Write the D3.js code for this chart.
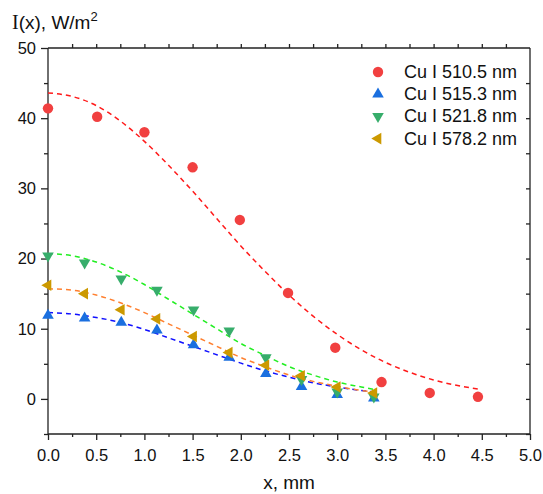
<!DOCTYPE html>
<html>
<head>
<meta charset="utf-8">
<script src="https://cdn.jsdelivr.net/npm/d3@7"></script>
<style>
  body { margin: 0; background: #fff; }
  text { font-family: "Liberation Sans", Arial, sans-serif; fill: #111; }
  .axis path, .axis line { stroke: #222; stroke-width: 1.3; }
  .axis text { font-size: 16.5px; font-family: "Liberation Sans", Arial, sans-serif; fill: #111; }
</style>
</head>
<body>
<div id="chart"></div>
<script>
// measured points, x in mm, I in W/m2
const seriesNames = ['Cu I 510.5 nm', 'Cu I 515.3 nm', 'Cu I 521.8 nm', 'Cu I 578.2 nm'];

const redX = [0, 0.51, 1.0, 1.5, 1.99, 2.49, 2.98, 3.46, 3.96, 4.46];
const redY = [41.4, 40.2, 38.0, 33.0, 25.5, 15.1, 7.3, 2.4, 0.85, 0.3];

const smallX = [0, 0.38, 0.76, 1.13, 1.51, 1.88, 2.26, 2.63, 3.0, 3.38];
const blueY = [11.9, 11.5, 10.9, 9.8, 7.7, 5.9, 3.6, 1.75, 0.6, 0.1];
const greenY = [20.4, 19.4, 17.1, 15.5, 12.7, 9.7, 5.9, 2.8, 1.0, 0.3];
const goldY = [16.2, 15.0, 12.7, 11.4, 8.9, 6.6, 4.8, 3.3, 1.7, 0.85];

// dashed fit curves
const fitRedX = [0, 0.25, 0.5, 0.75, 1.0, 1.25, 1.5, 1.75, 2.0, 2.25, 2.5, 2.75, 3.0, 3.25, 3.5, 3.75, 4.0, 4.25, 4.46];
const fitRedY = [43.6, 43.1, 41.8, 39.6, 36.7, 33.3, 29.6, 25.7, 21.8, 18.2, 14.8, 11.8, 9.2, 7.0, 5.2, 3.8, 2.7, 1.9, 1.4];

const fitSmallX = [0, 0.25, 0.5, 0.75, 1.0, 1.25, 1.5, 1.75, 2.0, 2.25, 2.5, 2.75, 3.0, 3.25, 3.38];
const fitBlueY = [12.3, 12.1, 11.6, 10.9, 9.9, 8.7, 7.5, 6.3, 5.1, 4.0, 3.1, 2.3, 1.7, 1.2, 1.0];
const fitGreenY = [20.7, 20.4, 19.5, 18.1, 16.3, 14.2, 12.1, 10.0, 7.9, 6.2, 4.6, 3.4, 2.4, 1.7, 1.35];
const fitGoldY = [15.7, 15.5, 14.8, 13.7, 12.3, 10.7, 9.1, 7.5, 5.9, 4.6, 3.4, 2.5, 1.8, 1.2, 1.0];

const xTicks = [0, 0.5, 1.0, 1.5, 2.0, 2.5, 3.0, 3.5, 4.0, 4.5, 5.0];
const yTicks = [0, 10, 20, 30, 40, 50];

const width = 543, height = 494;
const margin = {top: 48, right: 13, bottom: 60, left: 48};

const svg = d3.select('#chart').append('svg')
    .attr('width', width)
    .attr('height', height);

const xScale = d3.scaleLinear().domain([0, 5]).range([margin.left, width - margin.right]);
const yScale = d3.scaleLinear().domain([-5, 50]).range([height - margin.bottom, margin.top]);

const zip = (xs, ys) => xs.map((x, i) => ({x: x, y: ys[i]}));

const series = [
  {name: seriesNames[0], pts: zip(redX, redY), fit: zip(fitRedX, fitRedY), color: '#f14040', line: '#ff1a1a', shape: 'circle', rot: 0},
  {name: seriesNames[1], pts: zip(smallX, blueY), fit: zip(fitSmallX, fitBlueY), color: '#1a6fdf', line: '#1010ff', shape: 'tri', rot: 0},
  {name: seriesNames[2], pts: zip(smallX, greenY), fit: zip(fitSmallX, fitGreenY), color: '#37ad6b', line: '#22ee22', shape: 'tri', rot: 180},
  {name: seriesNames[3], pts: zip(smallX, goldY), fit: zip(fitSmallX, fitGoldY), color: '#cc9900', line: '#ff8030', shape: 'tri', rot: -90}
];

// axes
const axisX = d3.axisBottom(xScale).tickValues(xTicks).tickSize(6).tickPadding(9).tickFormat(d3.format('.1f'));
const axisXMinor = d3.axisBottom(xScale).tickValues(d3.range(0.25, 5, 0.5)).tickSize(3).tickFormat('');
const axisY = d3.axisLeft(yScale).tickValues(yTicks).tickSize(7).tickPadding(5);
const axisYMinor = d3.axisLeft(yScale).tickValues([-5, 5, 15, 25, 35, 45]).tickSize(4).tickFormat('');
const axisTop = d3.axisTop(xScale).tickValues(d3.range(0.25, 5, 0.25)).tickSize(4).tickFormat('');
const axisRight = d3.axisLeft(yScale).tickValues(d3.range(-5, 50, 5)).tickSize(4).tickFormat('');

const bottomY = height - margin.bottom;
svg.append('g').attr('class', 'axis').attr('transform', `translate(0,${bottomY})`).call(axisX)
    .call(g => g.select('.domain').attr('d', `M${margin.left},0H${width - margin.right}`))
    .call(g => g.selectAll('text').attr('font-size', null).attr('font-family', null));
svg.append('g').attr('class', 'axis').attr('transform', `translate(0,${bottomY})`).call(axisXMinor)
    .call(g => g.select('.domain').remove());
svg.append('g').attr('class', 'axis').attr('transform', `translate(${margin.left},0)`).call(axisY)
    .call(g => g.select('.domain').attr('d', `M0,${margin.top}V${bottomY}`));
svg.append('g').attr('class', 'axis').attr('transform', `translate(${margin.left},0)`).call(axisYMinor)
    .call(g => g.select('.domain').remove());
svg.append('g').attr('class', 'axis').attr('transform', `translate(0,${margin.top})`).call(axisTop)
    .call(g => g.select('.domain').attr('d', `M${margin.left},0H${width - margin.right}`));
svg.append('g').attr('class', 'axis').attr('transform', `translate(${width - margin.right},0)`).call(axisRight)
    .call(g => g.select('.domain').attr('d', `M0,${margin.top}V${bottomY}`));

svg.selectAll('.axis').attr('font-size', null).attr('font-family', null);

// fit lines
const line = d3.line().x(d => xScale(d.x)).y(d => yScale(d.y)).curve(d3.curveMonotoneX);

svg.append('g').selectAll('path')
    .data(series)
    .join('path')
    .attr('d', d => line(d.fit))
    .attr('fill', 'none')
    .attr('stroke', d => d.line)
    .attr('stroke-width', 1.5)
    .attr('stroke-dasharray', '5,4');

// markers
const symbolPath = s => s.shape === 'circle'
    ? d3.symbol(d3.symbolCircle, 85)()
    : d3.symbol(d3.symbolTriangle, 58)();

series.forEach(s => {
  svg.append('g').selectAll('path')
      .data(s.pts)
      .join('path')
      .attr('d', symbolPath(s))
      .attr('transform', d => `translate(${xScale(d.x)},${yScale(d.y)}) rotate(${s.rot})`)
      .attr('fill', s.color);
});

// legend
const legend = svg.append('g').attr('transform', 'translate(378,72)');
series.forEach((s, i) => {
  const row = legend.append('g').attr('transform', `translate(0,${i * 22.2})`);
  row.append('path')
      .attr('d', symbolPath(s))
      .attr('transform', `rotate(${s.rot})`)
      .attr('fill', s.color);
  row.append('text')
      .attr('x', 26)
      .attr('y', 6)
      .style('font-size', '18px')
      .text(s.name);
});

// axis titles
const yTitle = svg.append('text')
    .attr('x', 12)
    .attr('y', 29)
    .style('font-size', '19px');
yTitle.append('tspan').style('font-family', '"Liberation Serif", serif').style('font-size', '20px').text('I');
yTitle.append('tspan').text('(x), W/m');
yTitle.append('tspan').attr('dy', -8).style('font-size', '13px').text('2');

svg.append('text')
    .attr('x', (margin.left + width - margin.right) / 2)
    .attr('y', 489)
    .attr('text-anchor', 'middle')
    .style('font-size', '19px')
    .text('x, mm');
</script>
</body>
</html>
